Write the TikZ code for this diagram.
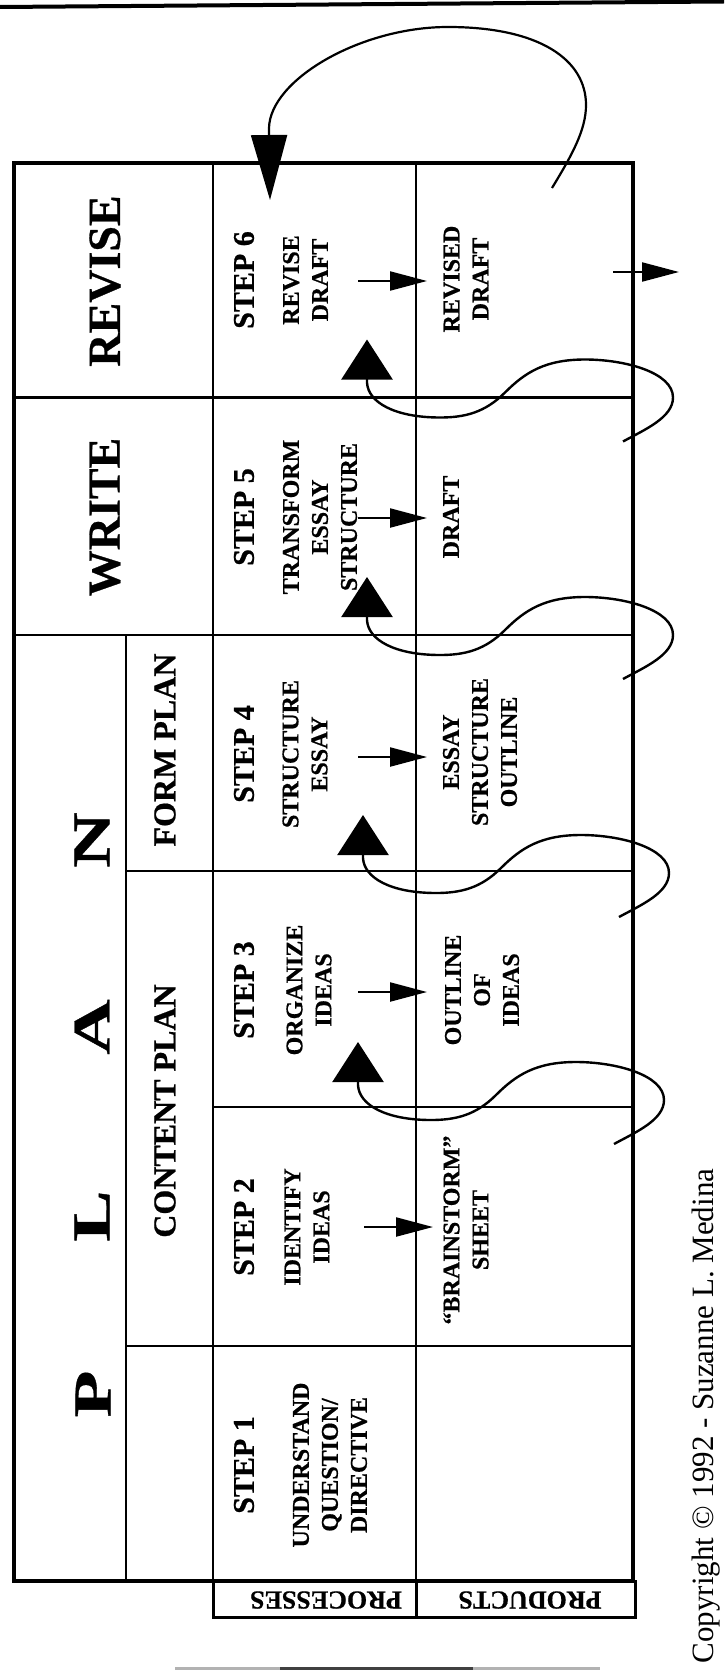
\documentclass[tikz,border=0pt]{standalone}
\usepackage{fontspec}
\setmainfont[BoldFeatures={FakeBold=0.6}]{Liberation Serif}
\usepackage{graphicx}
\usetikzlibrary{arrows.meta}
\tikzset{
 outerln/.style={line width=4.5pt},
 innerln/.style={line width=2.5pt},
 bigword/.style={font=\fontsize{46}{46}\selectfont\bfseries, rotate=90, inner sep=0pt},
 bigletter/.style={font=\fontsize{53}{53}\selectfont\bfseries, rotate=90, inner sep=0pt},
 subplan/.style={font=\fontsize{32}{32}\selectfont\bfseries, rotate=90, inner sep=0pt},
 steplbl/.style={font=\fontsize{30}{30}\selectfont\bfseries, rotate=90, inner sep=0pt},
 txt/.style={font=\fontsize{24}{29}\selectfont\bfseries, rotate=90, align=center, inner sep=0pt},
 lbl/.style={font=\fontsize{26}{26}\selectfont\bfseries, rotate=180, inner sep=0pt},
 flow/.style={line width=2.2pt, -{Triangle[length=37pt,width=19pt]}},
 sconn/.style={line width=2.4pt, -{Triangle[length=40pt,width=51pt]}},
 toparc/.style={line width=2.2pt, -{Triangle[length=65pt,width=36pt]}},
}
\newcommand\myloop[3]{%
 \begin{scope}[shift={(#2,#3)}]
  \coordinate (#1s) at (623,44);
  \coordinate (#1e) at (367,-58);
  \draw[sconn] (#1s) .. controls (645,32) and (673,20) .. (673,0)
     .. controls (673,-25) and (625,-38) .. (585,-38)
     .. controls (545,-38) and (525,-25) .. (505,-5)
     .. controls (485,15) and (465,20) .. (440,20)
     .. controls (395,20) and (368,5) .. (367,-15) -- (#1e);
 \end{scope}}
\begin{document}
\begin{tikzpicture}[x=1pt,y=-1pt]
\useasboundingbox (0,0) rectangle (724,1672);
% page rules
\draw[line width=4pt] (0,7) -- (724,1.5);
\draw[line width=3pt, black!30] (175,1668) -- (600,1668);
\draw[line width=3pt, black!75] (280,1668) -- (473,1668);
% grid
\draw[innerln] (14,397.5) -- (633,397.5);
\draw[innerln] (14,635) -- (633,635);
\draw[innerln] (126,871) -- (633,871);
\draw[innerln] (213,1107) -- (633,1107);
\draw[innerln] (126,1346) -- (633,1346);
\draw[innerln] (126,635) -- (126,1581);
\draw[innerln] (213,163) -- (213,1581);
\draw[innerln] (416,163) -- (416,1581);
\draw[outerln] (14,163) rectangle (633,1581);
% label boxes
\draw[line width=3pt] (213,1581) rectangle (635,1617);
\draw[line width=3pt] (416,1581) -- (416,1617);
\node[lbl] (lproc) at (326,1600) {PROCESSES};
\node[lbl] (lprod) at (530,1600) {PRODUCTS};
% title column
\node[bigword] (trev) at (105,281) {REVISE};
\node[bigword] (twri) at (105,517) {WRITE};
\node[bigletter] (lp) at (93,1394) {\scalebox{1.45}[1]{P}};
\node[bigletter] (ll) at (92,1216) {\scalebox{1.45}[1]{L}};
\node[bigletter] (la) at (92,1027) {\scalebox{1.45}[1]{A}};
\node[bigletter] (ln) at (92,840) {\scalebox{1.45}[1]{N}};
\node[subplan] (tform) at (165,750) {FORM PLAN};
\node[subplan] (tcont) at (165,1111) {CONTENT PLAN};
% processes
\node[steplbl] (s6) at (244,280) {STEP 6};
\node[txt] (p6) at (305.5,280) {REVISE\\DRAFT};
\node[steplbl] (s5) at (244,517) {STEP 5};
\node[txt] (p5) at (320,517) {TRANSFORM\\ESSAY\\STRUCTURE};
\node[steplbl] (s4) at (244,754) {STEP 4};
\node[txt] (p4) at (305,754) {STRUCTURE\\ESSAY};
\node[steplbl] (s3) at (244,990) {STEP 3};
\node[txt] (p3) at (309,990) {ORGANIZE\\IDEAS};
\node[steplbl] (s2) at (244,1227) {STEP 2};
\node[txt] (p2) at (307,1227) {IDENTIFY\\IDEAS};
\node[steplbl] (s1) at (244,1465) {STEP 1};
\node[txt] (p1) at (330,1465) {UNDERSTAND\\QUESTION/\\DIRECTIVE};
% products
\node[txt] (r6) at (466,279) {REVISED\\DRAFT};
\node[txt] (r5) at (451,517) {DRAFT};
\node[txt] (r4) at (480,752) {ESSAY\\STRUCTURE\\OUTLINE};
\node[txt] (r3) at (482,990) {OUTLINE\\OF\\IDEAS};
\node[txt] (r2) at (466,1230) {``BRAINSTORM''\\SHEET};
% process -> product arrows
\coordinate (a6s) at (358,281); \coordinate (a6e) at (427,281);
\coordinate (a5s) at (358,518); \coordinate (a5e) at (427,518);
\coordinate (a4s) at (358,757); \coordinate (a4e) at (427,757);
\coordinate (a3s) at (358,992); \coordinate (a3e) at (427,992);
\coordinate (a2s) at (364,1227); \coordinate (a2e) at (433,1227);
\coordinate (aos) at (613,272); \coordinate (aoe) at (679,272);
\draw[flow] (a6s) -- (a6e);
\draw[flow] (a5s) -- (a5e);
\draw[flow] (a4s) -- (a4e);
\draw[flow] (a3s) -- (a3e);
\draw[flow] (a2s) -- (a2e);
\draw[flow] (aos) -- (aoe);
% product -> next process loops
\myloop{c56}{0}{397.5}
\myloop{c45}{0}{635}
\myloop{c34}{-4}{873}
\myloop{c23}{-9}{1100}
% top arc
\coordinate (tops) at (552,188);
\coordinate (tope) at (270,200);
\draw[toparc] (tops) .. controls (572,155) and (586,130) .. (586,105)
   .. controls (586,60) and (540,27) .. (448,27)
   .. controls (360,27) and (270,80) .. (269,128) -- (tope);
% copyright
\node[font=\fontsize{31}{31}\selectfont, rotate=90, anchor=base, inner sep=0pt] (copy) at (713,1416)
  {Copyright © 1992 - Suzanne L. Medina};
\end{tikzpicture}
\end{document}
